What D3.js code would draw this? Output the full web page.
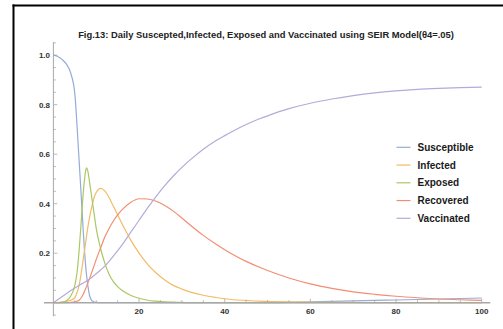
<!DOCTYPE html>
<html>
<head>
<meta charset="utf-8">
<script src="https://cdn.jsdelivr.net/npm/d3@7"></script>
<style>
  html, body { margin: 0; padding: 0; background: #fff; }
  svg { display: block; }
  text { font-family: "Liberation Sans", Arial, sans-serif; }
</style>
</head>
<body>
<svg id="chart" width="503" height="329"></svg>
<script>
// SEIR model output with vaccination, sampled over 100 days
const days = [0,1,2,3,4,5,5.5,6,6.5,7,7.5,7.75,8,8.5,9,9.5,10,11,12,13,14,15,16,18,20,22,24,26,28,30,32,35,38,40,42,45,48,50,55,60,65,70,75,80,85,90,95,100];

const susceptible = [1.0,0.995,0.983,0.965,0.93,0.845,0.72,0.575,0.43,0.28,0.155,0.11,0.075,0.025,0.008,0.003,0.001,0,0,0,0,0,0,0,0,0,0,0,0,0,0,0,0,0,0,0,0,0,0.001,0.003,0.005,0.007,0.009,0.011,0.013,0.015,0.017,0.019];
const infected    = [0,0,0.002,0.005,0.01,0.02,0.04,0.07,0.12,0.18,0.24,0.27,0.30,0.35,0.39,0.425,0.445,0.462,0.452,0.425,0.39,0.355,0.32,0.255,0.2,0.155,0.12,0.092,0.07,0.055,0.043,0.03,0.021,0.016,0.012,0.009,0.006,0.005,0.003,0.002,0.001,0.001,0,0,0,0,0,0];
const exposed     = [0,0,0.002,0.008,0.025,0.07,0.12,0.21,0.33,0.45,0.53,0.545,0.535,0.48,0.42,0.36,0.30,0.22,0.16,0.115,0.085,0.065,0.05,0.03,0.018,0.01,0.006,0.003,0.002,0.001,0,0,0,0,0,0,0,0,0,0,0,0,0,0,0,0,0,0];
const recovered   = [0,0,0,0,0.001,0.003,0.006,0.01,0.02,0.035,0.055,0.066,0.078,0.10,0.125,0.15,0.175,0.22,0.265,0.30,0.33,0.355,0.375,0.405,0.42,0.419,0.41,0.393,0.37,0.342,0.313,0.272,0.236,0.214,0.194,0.167,0.144,0.13,0.1,0.076,0.058,0.044,0.034,0.026,0.02,0.015,0.012,0.009];
const vaccinated  = [0,0.012,0.024,0.036,0.048,0.059,0.064,0.07,0.075,0.08,0.085,0.088,0.091,0.097,0.103,0.11,0.117,0.132,0.148,0.167,0.188,0.21,0.233,0.283,0.333,0.383,0.43,0.473,0.512,0.547,0.578,0.62,0.655,0.675,0.694,0.72,0.742,0.755,0.784,0.806,0.823,0.837,0.848,0.856,0.862,0.866,0.869,0.871];

const seriesNames  = ["Susceptible","Infected","Exposed","Recovered","Vaccinated"];
const seriesValues = [susceptible, infected, exposed, recovered, vaccinated];
const seriesColors = ["#94acd9","#f2bb66","#aac862","#f28e72","#b3abd9"];

const xMajor = [20,40,60,80,100];
const yMajor = [0.2,0.4,0.6,0.8,1.0];

const titleText = "Fig.13: Daily Suscepted,Infected, Exposed and Vaccinated using SEIR Model(\u03b84=.05)";

const svg = d3.select("#chart");

// frame lines along top and left
svg.append("line").attr("x1", 12.5).attr("x2", 503).attr("y1", 5.5).attr("y2", 5.5)
  .attr("stroke", "#000").attr("stroke-width", 2);
svg.append("line").attr("x1", 13.5).attr("x2", 13.5).attr("y1", 4.5).attr("y2", 329)
  .attr("stroke", "#000").attr("stroke-width", 2);

const x = d3.scaleLinear().domain([0, 100]).range([53.4, 481.7]);
const y = d3.scaleLinear().domain([0, 1]).range([302.7, 55.2]);

// title
svg.append("text")
  .attr("x", 266).attr("y", 37.5)
  .attr("text-anchor", "middle")
  .attr("font-size", 9.4).attr("font-weight", "bold")
  .attr("fill", "#222")
  .text(titleText);

const axisColor = "#a8a8a8";

// curves
const line = d3.line()
  .x((d, i) => x(days[i]))
  .y(d => y(d))
  .curve(d3.curveMonotoneX);

const g = svg.append("g");
seriesValues.forEach((vals, k) => {
  g.append("path")
    .datum(vals)
    .attr("d", line)
    .attr("fill", "none")
    .attr("stroke", seriesColors[k])
    .attr("stroke-width", 1.2)
    .attr("stroke-linejoin", "round");
});

// x axis
svg.append("line")
  .attr("x1", x(-2.2)).attr("x2", x(102))
  .attr("y1", y(0)).attr("y2", y(0))
  .attr("stroke", axisColor).attr("stroke-width", 1.6);
// y axis
svg.append("line")
  .attr("x1", x(0)).attr("x2", x(0))
  .attr("y1", y(1.053)).attr("y2", y(-0.055))
  .attr("stroke", axisColor).attr("stroke-width", 1);

// x ticks (major every 20, minor every 5), drawn upward
d3.range(5, 101, 5).forEach(t => {
  const major = t % 20 === 0;
  svg.append("line")
    .attr("x1", x(t)).attr("x2", x(t))
    .attr("y1", y(0)).attr("y2", y(0) - (major ? 4 : 2.5))
    .attr("stroke", axisColor).attr("stroke-width", 0.8);
});
xMajor.forEach(t => {
  svg.append("text")
    .attr("x", x(t)).attr("y", 313.5)
    .attr("text-anchor", "middle")
    .attr("font-size", 8).attr("font-weight", "bold")
    .attr("fill", "#333")
    .text(t);
});

// y ticks (major every 0.2, minor every 0.05), drawn rightward
d3.range(1, 22).map(i => i * 0.05).forEach(v => {
  const major = Math.abs(v / 0.2 - Math.round(v / 0.2)) < 1e-6;
  svg.append("line")
    .attr("x1", x(0)).attr("x2", x(0) + (major ? 4 : 2.5))
    .attr("y1", y(v)).attr("y2", y(v))
    .attr("stroke", axisColor).attr("stroke-width", 0.8);
});
svg.append("line")
  .attr("x1", x(0)).attr("x2", x(0) + 2.5)
  .attr("y1", y(-0.05)).attr("y2", y(-0.05))
  .attr("stroke", axisColor).attr("stroke-width", 0.8);
yMajor.forEach(v => {
  svg.append("text")
    .attr("x", 50).attr("y", y(v) + 2.8)
    .attr("text-anchor", "end")
    .attr("font-size", 8).attr("font-weight", "bold")
    .attr("fill", "#333")
    .text(v.toFixed(1));
});

// legend
const legend = svg.append("g");
seriesNames.forEach((name, k) => {
  const cy = 147.3 + k * 17.75;
  legend.append("line")
    .attr("x1", 396.5).attr("x2", 410.5)
    .attr("y1", cy).attr("y2", cy)
    .attr("stroke", seriesColors[k]).attr("stroke-width", 1.2);
  legend.append("text")
    .attr("x", 417.5).attr("y", cy + 3.6)
    .attr("font-size", 10).attr("font-weight", "bold")
    .attr("fill", "#1a1a1a")
    .text(name);
});
</script>
</body>
</html>
